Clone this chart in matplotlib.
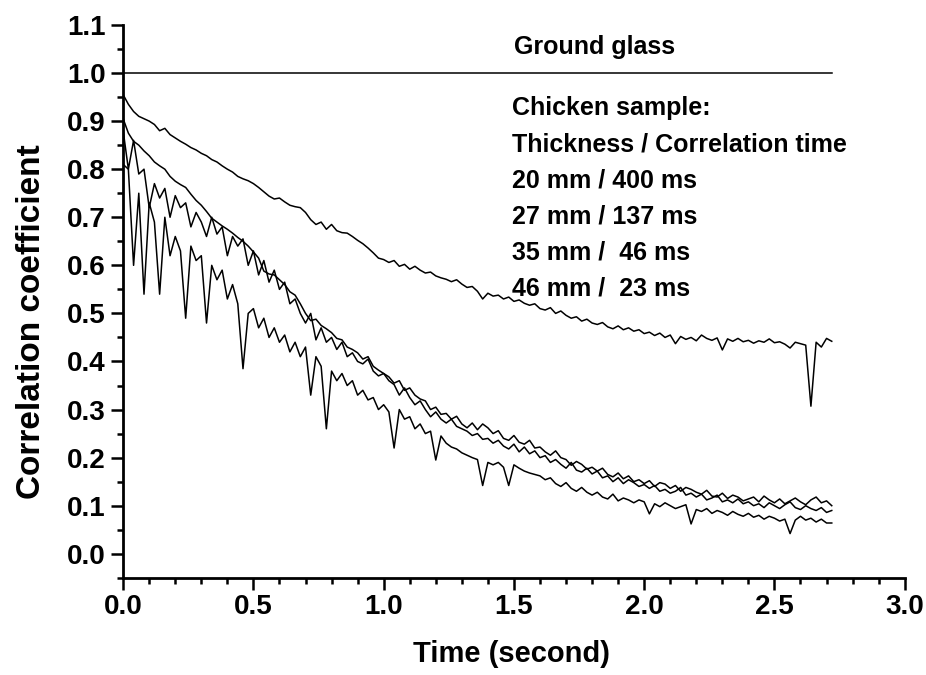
import numpy as np
import matplotlib.pyplot as plt
from matplotlib.ticker import MultipleLocator

# sample times (s), one sample every 20 ms
time = np.round(np.arange(0, 2.73, 0.02), 2)

# ground glass reference
glass_t = [0.0, 2.72]
glass_r = [1.0, 1.0]

# chicken samples
r_20mm = [
    0.955, 0.935, 0.92, 0.91, 0.905, 0.90, 0.893, 0.88, 0.885, 0.872,
    0.865, 0.858, 0.852, 0.845, 0.84, 0.833, 0.828, 0.82, 0.815, 0.807,
    0.80, 0.794, 0.785, 0.78, 0.776, 0.77, 0.762, 0.753, 0.744, 0.738,
    0.74, 0.732, 0.725, 0.722, 0.72, 0.71, 0.695, 0.685, 0.69, 0.675,
    0.685, 0.672, 0.668, 0.667, 0.66, 0.652, 0.645, 0.636, 0.626, 0.615,
    0.612, 0.606, 0.61, 0.598, 0.602, 0.592, 0.598, 0.59, 0.584, 0.586,
    0.578, 0.574, 0.571, 0.566, 0.57, 0.561, 0.554, 0.556, 0.546, 0.53,
    0.542, 0.536, 0.538, 0.53, 0.534, 0.525, 0.528, 0.521, 0.517, 0.52,
    0.51, 0.507, 0.512, 0.5, 0.505, 0.496, 0.49, 0.493, 0.484, 0.488,
    0.48, 0.477, 0.481, 0.472, 0.468, 0.474, 0.466, 0.47, 0.463, 0.466,
    0.458, 0.461, 0.454, 0.459, 0.45, 0.455, 0.437, 0.452, 0.446, 0.45,
    0.443, 0.455, 0.448, 0.444, 0.449, 0.424, 0.447, 0.442, 0.448, 0.441,
    0.444, 0.438, 0.443, 0.44, 0.447, 0.439, 0.441, 0.436, 0.428, 0.44,
    0.437, 0.434, 0.307, 0.44, 0.43, 0.448, 0.442,
]
r_27mm = [
    0.905, 0.875, 0.858, 0.85, 0.838, 0.828, 0.815, 0.807, 0.80, 0.785,
    0.775, 0.768, 0.762, 0.748, 0.735, 0.725, 0.712, 0.698, 0.69, 0.682,
    0.675, 0.667, 0.658, 0.65, 0.64, 0.628, 0.615, 0.588, 0.582, 0.58,
    0.57, 0.56, 0.545, 0.538, 0.52, 0.50, 0.485, 0.488, 0.475, 0.468,
    0.46, 0.448, 0.445, 0.43, 0.425, 0.418, 0.405, 0.41, 0.39, 0.382,
    0.375, 0.368, 0.355, 0.36, 0.34, 0.345, 0.33, 0.322, 0.318, 0.30,
    0.305, 0.29, 0.292, 0.28, 0.286, 0.27, 0.262, 0.272, 0.258, 0.27,
    0.262, 0.25, 0.256, 0.24, 0.236, 0.246, 0.232, 0.228, 0.236, 0.22,
    0.222, 0.212, 0.205, 0.214, 0.2, 0.196, 0.184, 0.192, 0.186, 0.176,
    0.18, 0.172, 0.178, 0.165, 0.16, 0.168, 0.156, 0.162, 0.15, 0.154,
    0.146, 0.152, 0.14, 0.148, 0.145, 0.136, 0.142, 0.13, 0.138, 0.134,
    0.128, 0.124, 0.132, 0.12, 0.118, 0.126, 0.115, 0.122, 0.118, 0.11,
    0.114, 0.118, 0.108, 0.12, 0.112, 0.106, 0.114, 0.104, 0.11, 0.116,
    0.108, 0.102, 0.112, 0.118, 0.106, 0.11, 0.1,
]
r_35mm = [
    0.88, 0.80, 0.86, 0.79, 0.80, 0.72, 0.77, 0.74, 0.76, 0.70,
    0.745, 0.72, 0.73, 0.68, 0.71, 0.69, 0.66, 0.70, 0.665, 0.68,
    0.62, 0.66, 0.64, 0.655, 0.60, 0.63, 0.58, 0.61, 0.565, 0.59,
    0.55, 0.565, 0.52, 0.53, 0.50, 0.48, 0.50, 0.445, 0.47, 0.44,
    0.45, 0.425, 0.44, 0.41, 0.418, 0.40, 0.395, 0.405, 0.38, 0.37,
    0.375, 0.36, 0.352, 0.33, 0.345, 0.325, 0.31, 0.318, 0.30, 0.285,
    0.295, 0.28, 0.272, 0.28, 0.265, 0.26, 0.255, 0.246, 0.25, 0.238,
    0.24, 0.23, 0.236, 0.224, 0.218, 0.228, 0.212, 0.222, 0.208, 0.214,
    0.2, 0.204, 0.19, 0.196, 0.186, 0.178, 0.19, 0.174, 0.17, 0.178,
    0.166, 0.172, 0.158, 0.162, 0.15, 0.158, 0.146, 0.154, 0.148, 0.14,
    0.144, 0.136, 0.142, 0.13, 0.134, 0.126, 0.13, 0.138, 0.122, 0.126,
    0.118, 0.124, 0.112, 0.116, 0.122, 0.108, 0.112, 0.106, 0.114, 0.104,
    0.108, 0.1, 0.104, 0.096, 0.106, 0.1, 0.094, 0.102, 0.108, 0.096,
    0.092, 0.1, 0.094, 0.09, 0.096, 0.086, 0.09,
]
r_46mm = [
    0.81, 0.80, 0.60, 0.75, 0.54, 0.73, 0.69, 0.54, 0.70, 0.62,
    0.66, 0.63, 0.49, 0.64, 0.61, 0.62, 0.48, 0.60, 0.57, 0.59,
    0.53, 0.56, 0.52, 0.385, 0.50, 0.51, 0.47, 0.49, 0.45, 0.47,
    0.44, 0.455, 0.42, 0.44, 0.41, 0.43, 0.33, 0.41, 0.39, 0.26,
    0.38, 0.36, 0.375, 0.35, 0.36, 0.33, 0.34, 0.32, 0.325, 0.30,
    0.31, 0.295, 0.22, 0.30, 0.28, 0.285, 0.26, 0.27, 0.25, 0.255,
    0.195, 0.245, 0.23, 0.222, 0.218, 0.21, 0.205, 0.20, 0.196, 0.142,
    0.19, 0.185, 0.19, 0.18, 0.142, 0.185, 0.178, 0.172, 0.168, 0.165,
    0.162, 0.154, 0.158, 0.146, 0.14, 0.148, 0.136, 0.13, 0.138, 0.128,
    0.122, 0.128, 0.118, 0.114, 0.124, 0.11, 0.116, 0.112, 0.106, 0.112,
    0.108, 0.083, 0.104, 0.098, 0.106, 0.1, 0.094, 0.098, 0.102, 0.062,
    0.092, 0.088, 0.094, 0.084, 0.09, 0.086, 0.08, 0.088, 0.082, 0.078,
    0.084, 0.076, 0.08, 0.072, 0.078, 0.074, 0.068, 0.072, 0.042, 0.07,
    0.078, 0.07, 0.074, 0.066, 0.072, 0.064, 0.064,
]

notes = ["Chicken sample:", "Thickness / Correlation time",
         "20 mm / 400 ms", "27 mm / 137 ms", "35 mm /  46 ms", "46 mm /  23 ms"]

plt.rcParams['font.family'] = ['Liberation Sans', 'DejaVu Sans']
plt.rcParams['font.weight'] = 'bold'

fig = plt.figure(figsize=(9.26, 6.75), dpi=100)
ax = fig.add_axes([0.133, 0.144, 0.844, 0.819])

ax.plot(glass_t, glass_r, color='black', lw=1.1)
for r in (r_20mm, r_27mm, r_35mm, r_46mm):
    ax.plot(time, r, color='black', lw=1.1)

ax.text(1.50, 1.054, "Ground glass", fontsize=18, fontweight='bold', va='center')
for i, s in enumerate(notes):
    ax.text(1.492, 0.927 - i * 0.075, s, fontsize=18, fontweight='bold', va='center')

ax.set_xlim(0, 3.0)
ax.set_ylim(-0.05, 1.1)
ax.xaxis.set_major_locator(MultipleLocator(0.5))
ax.xaxis.set_minor_locator(MultipleLocator(0.1))
ax.yaxis.set_major_locator(MultipleLocator(0.1))
ax.yaxis.set_minor_locator(MultipleLocator(0.05))
ax.xaxis.set_major_formatter(plt.FormatStrFormatter('%.1f'))
ax.yaxis.set_major_formatter(plt.FormatStrFormatter('%.1f'))

for side in ('top', 'right'):
    ax.spines[side].set_visible(False)
for side in ('left', 'bottom'):
    ax.spines[side].set_linewidth(2)

ax.tick_params(which='major', direction='out', length=8.5, width=1.8, labelsize=20)
ax.tick_params(axis='y', which='major', pad=4)
ax.tick_params(axis='x', which='major', pad=3)
ax.tick_params(which='minor', direction='out', length=4.5, width=1.8)
for lab in ax.get_xticklabels() + ax.get_yticklabels():
    lab.set_fontweight('bold')

ax.set_xlabel("Time (second)", fontsize=21, fontweight='bold')
ax.set_ylabel("Correlation coefficient", fontsize=24, fontweight='bold')
ax.xaxis.set_label_coords(0.497, -0.112)
ax.yaxis.set_label_coords(-0.097, 0.463)

fig.savefig("out.png", dpi=100)
